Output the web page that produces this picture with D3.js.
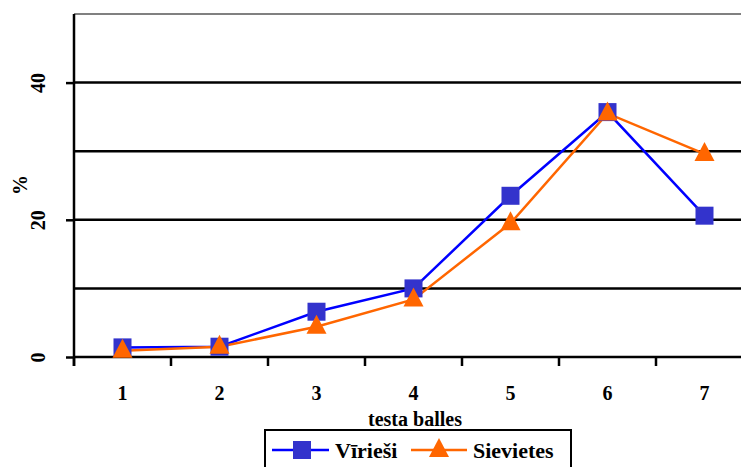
<!DOCTYPE html>
<html>
<head>
<meta charset="utf-8">
<script src="https://cdn.jsdelivr.net/npm/d3@7"></script>
<style>
  html, body { margin: 0; padding: 0; background: #fff; overflow: hidden; }
</style>
</head>
<body>
<svg id="chart" width="741" height="467"></svg>
<script>
// testa balles, % by sex
const categories = ['1', '2', '3', '4', '5', '6', '7'];
const virieshi   = [1.4, 1.5, 6.6, 10.0, 23.5, 35.7, 20.6];
const sievietes  = [0.9, 1.5, 4.4, 8.4, 19.5, 35.5, 29.6];
const yTicks     = [0, 20, 40];
const gridVals   = [10, 20, 30, 40];

const FONT = "'Liberation Serif', 'Times New Roman', Times, serif";

const svg = d3.select('#chart');
const L = 74, T = 14, B = 357, BW = 97;

const x = d3.scaleBand().domain(categories).range([L, L + BW * categories.length]).padding(0);
const y = d3.scaleLinear().domain([0, 50]).range([B, T]);
const cx = d => x(d) + x.bandwidth() / 2;

function txt(sel, size) {
  return sel.style('font-family', FONT).style('font-weight', 'bold').style('font-size', size + 'px').attr('fill', '#000');
}

// grid
svg.append('g').selectAll('line').data(gridVals).join('line')
  .attr('x1', L).attr('x2', 760)
  .attr('y1', d => y(d)).attr('y2', d => y(d))
  .attr('stroke', '#000').attr('stroke-width', 2.5);

// top border
svg.append('line').attr('x1', L).attr('x2', 760).attr('y1', y(50)).attr('y2', y(50))
  .attr('stroke', '#808080').attr('stroke-width', 2);

// y axis
const gy = svg.append('g').attr('transform', `translate(${L},0)`)
  .call(d3.axisLeft(y).tickValues(yTicks).tickSize(8).tickSizeOuter(0).tickFormat(d3.format('d')));
gy.select('.domain').attr('stroke', '#000').attr('stroke-width', 2.5).attr('d', `M0,${y(50)}V${B + 9}`);
gy.selectAll('.tick line').attr('stroke', '#000').attr('stroke-width', 2.5);
txt(gy.selectAll('.tick text'), 20)
  .attr('x', null).attr('dy', null)
  .attr('text-anchor', 'middle')
  .attr('transform', 'translate(-36,0) rotate(-90)')
  .attr('y', 7);

// x axis
const gx = svg.append('g').attr('transform', `translate(0,${B})`);
gx.append('line').attr('x1', L).attr('x2', 760).attr('y1', 0).attr('y2', 0)
  .attr('stroke', '#000').attr('stroke-width', 2.5);
gx.selectAll('line.tk').data(categories.concat(['8'])).join('line').attr('class', 'tk')
  .attr('x1', (d, i) => L + i * x.bandwidth()).attr('x2', (d, i) => L + i * x.bandwidth())
  .attr('y1', 0).attr('y2', 9).attr('stroke', '#000').attr('stroke-width', 2.5);
txt(gx.selectAll('text').data(categories).join('text'), 20)
  .attr('x', d => cx(d)).attr('y', 43)
  .attr('text-anchor', 'middle').text(d => d);

// axis titles
txt(svg.append('text'), 20).attr('x', 415).attr('y', 426).attr('text-anchor', 'middle').text('testa balles');
txt(svg.append('text'), 20).attr('transform', 'translate(27,185) rotate(-90)').attr('text-anchor', 'middle').text('%');

// series
const line = d3.line().x((d, i) => cx(categories[i])).y(d => y(d));
svg.append('path').datum(virieshi).attr('d', line)
  .attr('fill', 'none').attr('stroke', '#0000ff').attr('stroke-width', 2.5);
svg.append('path').datum(sievietes).attr('d', line)
  .attr('fill', 'none').attr('stroke', '#ff6600').attr('stroke-width', 2.5);

const sq = 18;
svg.append('g').selectAll('rect').data(virieshi).join('rect')
  .attr('x', (d, i) => cx(categories[i]) - sq / 2).attr('y', d => y(d) - sq / 2)
  .attr('width', sq).attr('height', sq).attr('fill', '#3333cc');

const tri = (px, py) => `M${px},${py - 12}L${px + 10},${py + 7}L${px - 10},${py + 7}Z`;
svg.append('g').selectAll('path').data(sievietes).join('path')
  .attr('d', (d, i) => tri(cx(categories[i]), y(d)))
  .attr('fill', '#ff6600');

// legend
const lg = svg.append('g');
lg.append('rect').attr('x', 265).attr('y', 430).attr('width', 306).attr('height', 60)
  .attr('fill', '#fff').attr('stroke', '#000').attr('stroke-width', 2);
lg.append('line').attr('x1', 272).attr('x2', 329).attr('y1', 450).attr('y2', 450)
  .attr('stroke', '#0000ff').attr('stroke-width', 2.5);
lg.append('rect').attr('x', 302 - sq / 2).attr('y', 450 - sq / 2).attr('width', sq).attr('height', sq)
  .attr('fill', '#3333cc');
txt(lg.append('text'), 22).attr('x', 335).attr('y', 458).text('Vīrieši');
lg.append('line').attr('x1', 411).attr('x2', 467).attr('y1', 450).attr('y2', 450)
  .attr('stroke', '#ff6600').attr('stroke-width', 2.5);
lg.append('path').attr('d', tri(439, 450)).attr('fill', '#ff6600');
txt(lg.append('text'), 22).attr('x', 473).attr('y', 458).text('Sievietes');
</script>
</body>
</html>
